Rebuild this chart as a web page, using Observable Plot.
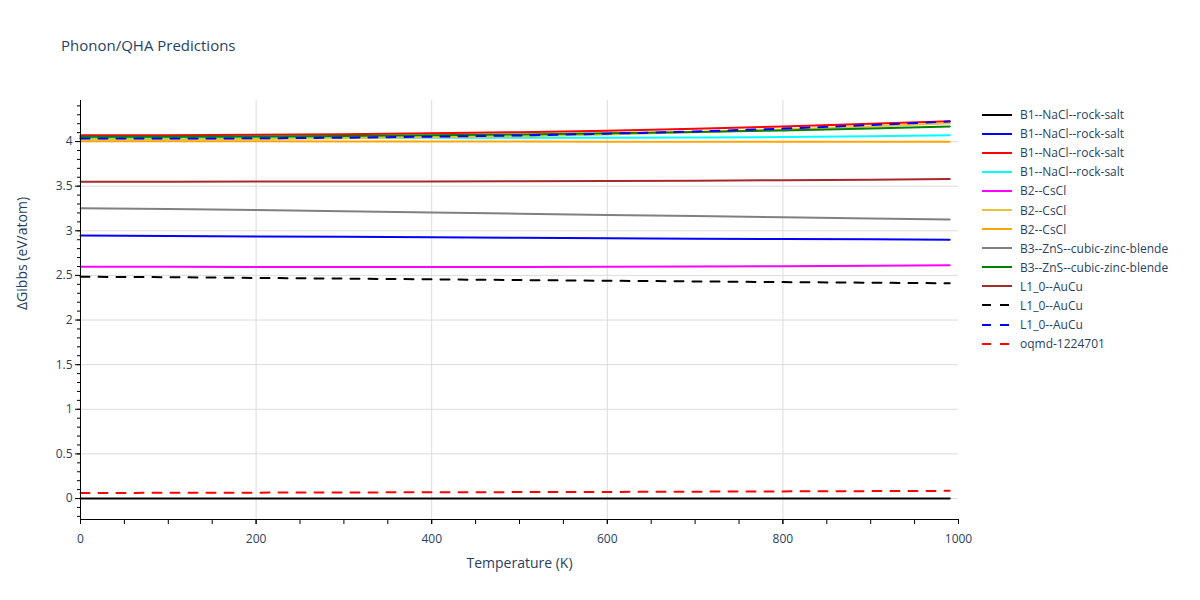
<!DOCTYPE html>
<html><head><meta charset="utf-8">
<script src="https://cdn.jsdelivr.net/npm/d3@7"></script>
<script src="https://cdn.jsdelivr.net/npm/@observablehq/plot@0.6"></script>
<style>
body{margin:0;background:#fff;font-family:"Open Sans",verdana,arial,sans-serif;}
#wrap{position:relative;width:1200px;height:600px;overflow:hidden;}
#title{position:absolute;left:61px;top:35px;font-size:15px;color:#2a3f5f;white-space:nowrap;}
#chart{position:absolute;left:0;top:70px;}
#legend{position:absolute;left:980px;top:105px;font-size:12px;color:#2a3f5f;}
.item{height:19.1px;display:flex;align-items:center;white-space:nowrap;}
.item svg{margin-right:6px;}
</style></head><body>
<div id="wrap">
  <div id="title">Phonon/QHA Predictions</div>
  <div id="chart"></div>
  <div id="legend"></div>
</div>
<script>
// ---- data ----
const temperatures = [0, 100, 200, 300, 400, 500, 600, 700, 800, 900, 990];
const seriesNames = [
  "B1--NaCl--rock-salt", "B1--NaCl--rock-salt", "B1--NaCl--rock-salt", "B1--NaCl--rock-salt",
  "B2--CsCl", "B2--CsCl", "B2--CsCl",
  "B3--ZnS--cubic-zinc-blende", "B3--ZnS--cubic-zinc-blende",
  "L1_0--AuCu", "L1_0--AuCu", "L1_0--AuCu", "oqmd-1224701"
];
const b1Black   = [0, 0, 0, 0, 0, 0, 0, 0, 0, 0, 0];
const b1Blue    = [2.946, 2.942, 2.937, 2.932, 2.927, 2.922, 2.917, 2.912, 2.908, 2.904, 2.900];
const b1Red     = [4.071, 4.071, 4.075, 4.083, 4.093, 4.105, 4.120, 4.143, 4.170, 4.200, 4.228];
const b1Cyan    = [4.040, 4.040, 4.040, 4.041, 4.042, 4.043, 4.044, 4.046, 4.050, 4.060, 4.070];
const b2Magenta = [2.598, 2.596, 2.594, 2.593, 2.593, 2.594, 2.597, 2.600, 2.604, 2.608, 2.613];
const b2Gold    = [4.025, 4.026, 4.030, 4.037, 4.047, 4.060, 4.080, 4.105, 4.135, 4.170, 4.205];
const b2Orange  = [4.003, 4.003, 4.002, 4.001, 4.000, 4.000, 3.998, 3.997, 3.997, 3.997, 3.998];
const b3Gray    = [3.253, 3.245, 3.232, 3.218, 3.205, 3.192, 3.178, 3.165, 3.152, 3.139, 3.127];
const b3Green   = [4.053, 4.054, 4.057, 4.062, 4.070, 4.080, 4.093, 4.108, 4.124, 4.145, 4.170];
const l10Brown  = [3.550, 3.550, 3.551, 3.552, 3.553, 3.555, 3.558, 3.562, 3.567, 3.573, 3.580];
const l10BlackDash = [2.485, 2.480, 2.472, 2.464, 2.456, 2.448, 2.440, 2.433, 2.425, 2.418, 2.412];
const l10BlueDash  = [4.034, 4.034, 4.036, 4.043, 4.055, 4.068, 4.088, 4.113, 4.145, 4.185, 4.225];
const oqmdRedDash  = [0.062, 0.064, 0.066, 0.068, 0.070, 0.072, 0.074, 0.077, 0.080, 0.083, 0.086];
const seriesValues = [b1Black, b1Blue, b1Red, b1Cyan, b2Magenta, b2Gold, b2Orange, b3Gray, b3Green,
  l10Brown, l10BlackDash, l10BlueDash, oqmdRedDash];
const yTicks = [0, 0.5, 1, 1.5, 2, 2.5, 3, 3.5, 4];
const xTicks = [0, 200, 400, 600, 800, 1000];

// ---- styles ----
const seriesColors = ["black", "blue", "red", "cyan", "magenta", "#e8c03a", "orange", "gray", "green",
  "brown", "black", "blue", "red"];
const seriesDashed = [false, false, false, false, false, false, false, false, false, false, true, true, true];

const series = seriesNames.map((name, i) => ({
  name, color: seriesColors[i], dashed: seriesDashed[i],
  data: temperatures.map((t, j) => ({T: t, G: seriesValues[i][j]}))
}));

const yDomain = [-0.235, 4.46];
const minorY = d3.range(-2, 45).map(i => i / 10);
const minorX = d3.range(0, 1001, 50);
const fmt = d => String(+d.toFixed(1));

const chart = Plot.plot({
  width: 1200, height: 530,
  marginLeft: 80, marginRight: 242, marginTop: 30, marginBottom: 81,
  x: {domain: [0, 1000], label: null},
  y: {domain: yDomain, label: null},
  style: {fontSize: "12px", fontFamily: '"Open Sans", verdana, arial, sans-serif', color: "#2a3f5f", background: "#fff"},
  marks: [
    Plot.gridX({ticks: [200, 400, 600, 800], stroke: "#dcdcdc", strokeOpacity: 1}),
    Plot.gridY({ticks: yTicks, stroke: "#dcdcdc", strokeOpacity: 1}),
    ...series.map(s => Plot.line(s.data, {
      x: "T", y: "G", stroke: s.color, strokeWidth: 2,
      strokeDasharray: s.dashed ? "9,9" : undefined
    })),
    Plot.ruleX([0], {stroke: "black", strokeWidth: 1}),
    Plot.ruleY([yDomain[0]], {stroke: "black", strokeWidth: 1}),
    Plot.axisY({ticks: minorY, tickSize: 3, tickFormat: () => "", stroke: "black", label: null}),
    Plot.axisY({ticks: yTicks, tickSize: 5, tickPadding: 3, tickFormat: fmt, stroke: "black", fill: "#2a3f5f", label: null}),
    Plot.axisX({ticks: minorX, tickSize: 5, tickFormat: () => "", stroke: "black", label: null}),
    Plot.axisX({ticks: xTicks, tickSize: 5, tickPadding: 10, tickFormat: fmt, stroke: "black", fill: "#2a3f5f", label: null}),
    Plot.text(["ΔGibbs (eV/atom)"], {frameAnchor: "left", text: d => d, rotate: -90, dx: -58, fontSize: 14, fill: "#2a3f5f"}),
    Plot.text(["Temperature (K)"], {frameAnchor: "bottom", text: d => d, dy: 48, fontSize: 14, fill: "#2a3f5f"})
  ]
});
document.getElementById("chart").appendChild(chart);

// legend
const legend = d3.select("#legend");
series.forEach(s => {
  const item = legend.append("div").attr("class", "item");
  const sv = item.append("svg").attr("width", 34).attr("height", 10);
  sv.append("line").attr("x1", 2).attr("x2", 32).attr("y1", 5).attr("y2", 5)
    .attr("stroke", s.color).attr("stroke-width", 2)
    .attr("stroke-dasharray", s.dashed ? "9,9" : null);
  item.append("span").text(s.name);
});
</script>
</body></html>
